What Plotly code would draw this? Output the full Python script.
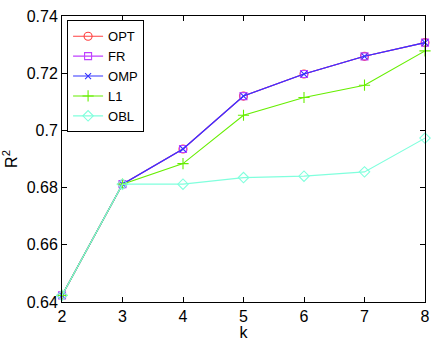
import plotly.graph_objects as go

k = [2, 3, 4, 5, 6, 7, 8]
opt = [0.6423, 0.6812, 0.6935, 0.7120, 0.7197, 0.7259, 0.7307]
fr = [0.6423, 0.6812, 0.6935, 0.7120, 0.7197, 0.7259, 0.7307]
omp = [0.6423, 0.6812, 0.6935, 0.7120, 0.7197, 0.7259, 0.7307]
l1 = [0.6423, 0.6812, 0.6884, 0.7053, 0.7115, 0.7158, 0.7278]
obl = [0.6423, 0.6812, 0.6812, 0.6835, 0.6840, 0.6855, 0.6973]

y_ticks = [0.64, 0.66, 0.68, 0.70, 0.72, 0.74]
y_labels = ["0.64", "0.66", "0.68", "0.7", "0.72", "0.74"]

series = [
    ("OPT", opt, "#ff4040", "circle-open", 8),
    ("FR", fr, "#bf40ff", "square-open", 7),
    ("OMP", omp, "#3333ff", "x-thin-open", 6),
    ("L1", l1, "#66ee00", "cross-thin-open", 8),
    ("OBL", obl, "#80ffdd", "diamond-open", 8),
]

fig = go.Figure()
for name, vals, color, sym, size in series:
    fig.add_trace(go.Scatter(
        x=k, y=vals, name=name, mode="lines+markers", cliponaxis=False,
        line=dict(color=color, width=1.1),
        marker=dict(symbol=sym, size=size, color=color, line=dict(color=color, width=1.1)),
    ))

axis_style = dict(showline=True, linecolor="black", linewidth=1, mirror="ticks",
                  ticks="inside", ticklen=5, tickcolor="black", showgrid=False,
                  zeroline=False, automargin=False, tickfont=dict(size=16, color="black"))

fig.update_layout(
    width=436, height=341,
    margin=dict(l=62, r=11, t=16, b=39),
    paper_bgcolor="white", plot_bgcolor="white",
    font=dict(family="Liberation Sans, Arial, sans-serif", color="black"),
    xaxis=dict(range=[2, 8], tickvals=k, title=dict(text="k", font=dict(size=16), standoff=0), **axis_style),
    yaxis=dict(range=[0.64, 0.74], tickvals=y_ticks, ticktext=y_labels,
               title=dict(text="R<sup>2</sup>", font=dict(size=16), standoff=10), **axis_style),
    legend=dict(x=0.014, y=0.985, xanchor="left", yanchor="top",
                bgcolor="white", bordercolor="black", borderwidth=1,
                font=dict(size=13), tracegroupgap=0, itemwidth=30),
    showlegend=True,
)

# drop the default 8px body margin so the figure sits at the page corner
fig.write_html("out.html", config={"displayModeBar": False},
               post_script="document.body.style.margin='0';")
